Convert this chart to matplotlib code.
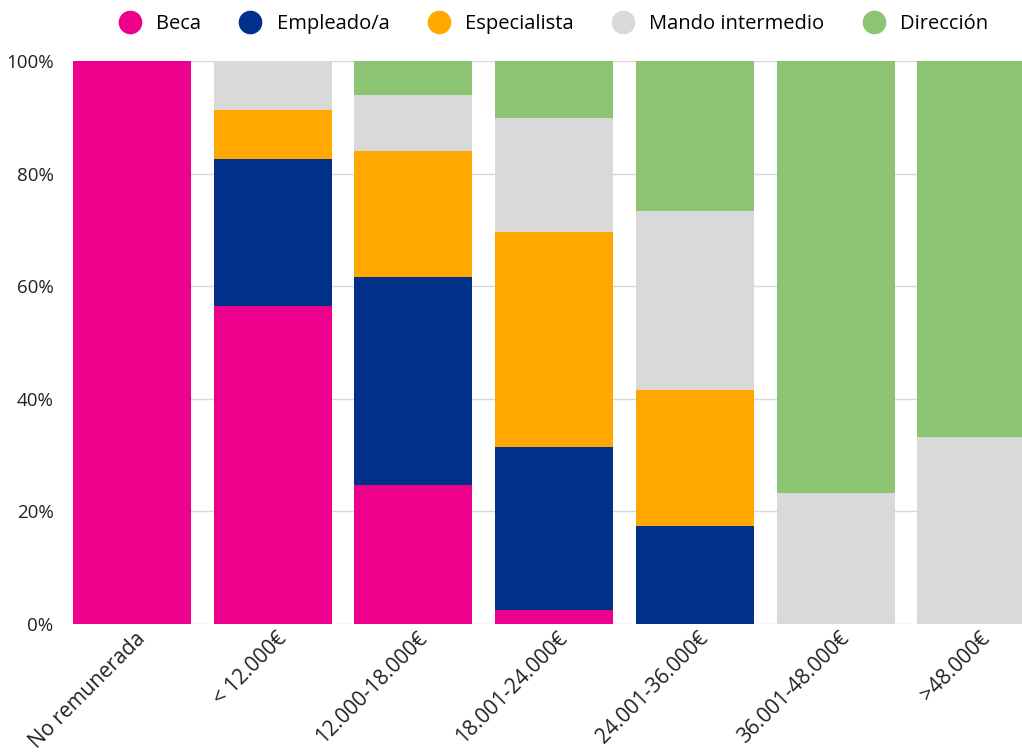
import matplotlib.pyplot as plt
import matplotlib.transforms as mtransforms
from matplotlib.lines import Line2D
import numpy as np

plt.rcParams['font.family'] = ['Open Sans', 'DejaVu Sans']

categories = ['No remunerada', '< 12.000€', '12.000-18.000€', '18.001-24.000€',
              '24.001-36.000€', '36.001-48.000€', '>48.000€']
series = ['Beca', 'Empleado/a', 'Especialista', 'Mando intermedio', 'Dirección']
colors = ['#EC008C', '#00308A', '#FFA900', '#D9D9D9', '#8CC474']

beca = [100.0, 56.5, 24.7, 2.5, 0.0, 0.0, 0.0]
empleado = [0.0, 26.1, 36.9, 28.9, 17.4, 0.0, 0.0]
especialista = [0.0, 8.7, 22.4, 38.2, 24.2, 0.0, 0.0]
mando = [0.0, 8.7, 10.0, 20.3, 31.8, 23.3, 33.3]
direccion = [0.0, 0.0, 6.0, 10.1, 26.6, 76.7, 66.7]
values = [beca, empleado, especialista, mando, direccion]

fig = plt.figure(figsize=(10.22, 7.55), dpi=100)
ax = fig.add_axes([0.0714, 0.1735, 0.9286, 0.7457])

x = np.arange(len(categories))
width = 0.839
bottom = np.zeros(len(categories))
for name, vals, col in zip(series, values, colors):
    ax.bar(x, vals, width, bottom=bottom, color=col, label=name, linewidth=0, zorder=2)
    bottom += np.array(vals)

ax.set_ylim(0, 100)
ax.set_xlim(-0.4195, 6.325)
ax.set_yticks(range(0, 101, 20))
ax.set_yticklabels(['{}%'.format(v) for v in range(0, 101, 20)], fontsize=13.5, color='#222222')
ax.yaxis.grid(True, color='#D9D9D9', linewidth=1, zorder=0)
ax.set_axisbelow(True)
ax.tick_params(axis='y', length=0, pad=14)
ax.tick_params(axis='x', length=0, pad=3)
for s in ax.spines.values():
    s.set_visible(False)

ax.set_xticks(x)
ax.set_xticklabels(categories, rotation=45, ha='right', rotation_mode='anchor',
                   fontsize=15, color='#222222')
offset = mtransforms.ScaledTranslation(0.03, 0.0, fig.dpi_scale_trans)
for lbl in ax.get_xticklabels():
    lbl.set_transform(lbl.get_transform() + offset)

handles = [Line2D([], [], marker='o', linestyle='none', markersize=16,
                  markerfacecolor=c, markeredgecolor=c) for c in colors]
fig.legend(handles, series, loc='center', bbox_to_anchor=(0.537, 0.968), ncol=5,
           frameon=False, fontsize=14.5, handletextpad=0.3, columnspacing=1.45)

fig.savefig('out.png', dpi=100)
